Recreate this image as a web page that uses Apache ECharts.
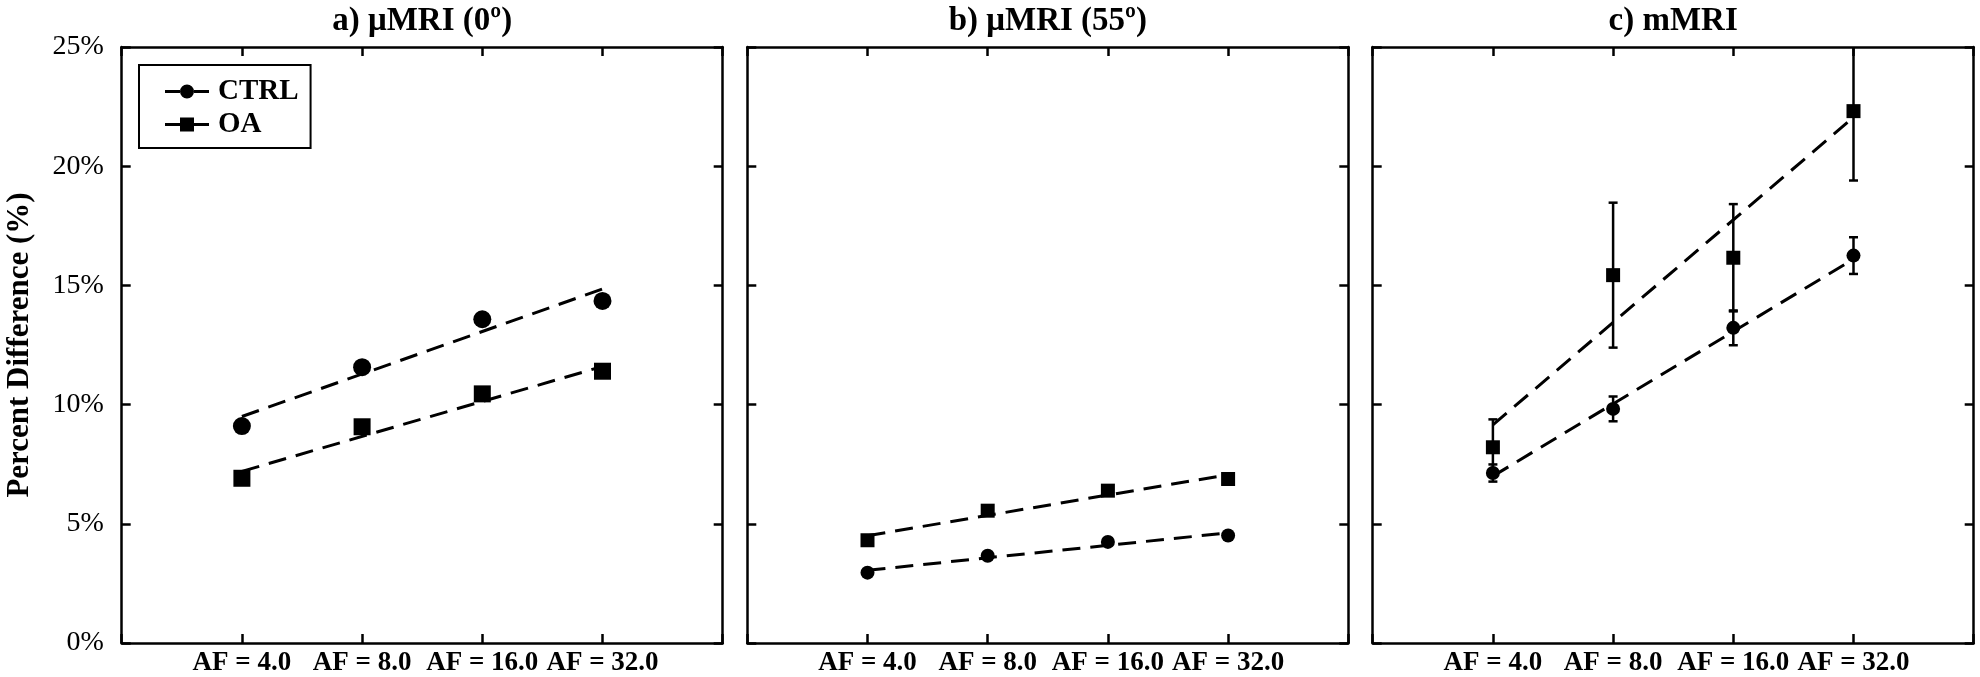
<!DOCTYPE html>
<html>
<head>
<meta charset="utf-8">
<script src="https://cdn.jsdelivr.net/npm/echarts@6/dist/echarts.min.js"></script>
<style>
  html, body { margin: 0; padding: 0; background: #fff; }
  #main { width: 1980px; height: 677px; }
</style>
</head>
<body>
<div id="main"></div>
<script>
// x categories (acceleration factors) and y tick labels
const afLabels = ['AF = 4.0', 'AF = 8.0', 'AF = 16.0', 'AF = 32.0']
const afPos = [1, 2, 3, 4]
const yTicks = [0, 5, 10, 15, 20, 25]
const panelTitles = ['a) μMRI (0º)', 'b) μMRI (55º)', 'c) mMRI']

// a) uMRI 0 deg
const ctrlA = [9.1, 11.57, 13.58, 14.35]
const oaA = [6.91, 9.07, 10.45, 11.4]
const ctrlFitA = [9.5, 14.85]
const oaFitA = [7.2, 11.6]

// b) uMRI 55 deg
const ctrlB = [2.95, 3.66, 4.24, 4.51]
const oaB = [4.31, 5.55, 6.39, 6.88]
const ctrlFitB = [3.05, 4.62]
const oaFitB = [4.5, 7.06]

// c) mMRI (with error bars)
const ctrlC = [7.13, 9.82, 13.22, 16.25]
const oaC = [8.21, 15.43, 16.16, 22.31]
const ctrlErrC = [0.36, 0.52, 0.73, 0.77]
const oaErrC = [1.17, 3.04, 2.25, 2.91]
const ctrlFitC = [7.0, 16.1]
const oaFitC = [9.15, 22.05]

const SERIF = '"Liberation Serif", "Times New Roman", serif'
const gridLeft = [121.7, 747.3, 1372.7]

const circleIcon = 'path://M0,5.5H15V8.5H0Z M29,5.5H44V8.5H29Z M15,7A7,7 0 1,1 29,7A7,7 0 1,1 15,7Z'
const squareIcon = 'path://M0,5.5H15V8.5H0Z M29,5.5H44V8.5H29Z M15,0H29V14H15Z'

var lineBlack = { color: '#000', width: 2.5 }
var axLine = { onZero: false, lineStyle: lineBlack }
var tick = { inside: true, length: 9, lineStyle: lineBlack }

var grids = []
var xAxes = []
var yAxes = []
for (var i = 0; i < 3; i++) {
  grids.push({ left: gridLeft[i], top: 42.7, width: 601, height: 600.6 })
  // bottom axis with AF labels
  xAxes.push({
    gridIndex: i, type: 'value', position: 'bottom', min: 0, max: 5, interval: 1,
    axisLine: axLine, axisTick: tick, splitLine: { show: false },
    axisLabel: {
      formatter: function (v) { return afLabels[afPos.indexOf(v)] || '' },
      fontFamily: SERIF, fontWeight: 'bold', fontSize: 27, color: '#000', margin: 7
    }
  })
  // top axis: mirrored ticks + panel title
  xAxes.push({
    gridIndex: i, type: 'value', position: 'top', min: 0, max: 5, interval: 1,
    axisLine: axLine, axisTick: tick, splitLine: { show: false },
    axisLabel: { show: false },
    name: panelTitles[i], nameLocation: 'middle', nameGap: 9,
    nameTextStyle: { fontFamily: SERIF, fontWeight: 'bold', fontSize: 33, color: '#000' }
  })
  yAxes.push({
    gridIndex: i, type: 'value', position: 'left', min: yTicks[0], max: yTicks[yTicks.length - 1], interval: 5,
    axisLine: axLine, axisTick: tick, splitLine: { show: false },
    axisLabel: {
      show: i === 0, formatter: '{value}%',
      fontFamily: SERIF, fontSize: 28, color: '#000', margin: 18
    },
    name: i === 0 ? 'Percent Difference (%)' : '', nameLocation: 'middle', nameRotate: 90, nameGap: 86,
    nameTextStyle: { fontFamily: SERIF, fontWeight: 'bold', fontSize: 31, color: '#000' }
  })
  yAxes.push({
    gridIndex: i, type: 'value', position: 'right', min: 0, max: 25, interval: 5,
    axisLine: axLine, axisTick: tick, splitLine: { show: false },
    axisLabel: { show: false }
  })
}

function pts(vals) {
  return vals.map(function (v, k) { return [afPos[k], v] })
}
function fitPts(ends) {
  return [[afPos[0], ends[0]], [afPos[afPos.length - 1], ends[1]]]
}
function markers(name, vals, panel, symbol, size) {
  return {
    name: name, type: 'scatter', xAxisIndex: panel * 2, yAxisIndex: panel * 2,
    symbol: symbol, symbolSize: size, data: pts(vals),
    itemStyle: { color: '#000', opacity: 1 }, z: 4, silent: true
  }
}
function fit(name, ends, panel) {
  return {
    name: name, type: 'line', xAxisIndex: panel * 2, yAxisIndex: panel * 2,
    data: fitPts(ends), showSymbol: false, symbol: 'none',
    lineStyle: { color: '#000', width: 3, type: [18, 10] }, z: 2, silent: true
  }
}
function errBars(name, vals, errs, panel) {
  return {
    name: name, type: 'custom', xAxisIndex: panel * 2, yAxisIndex: panel * 2,
    clip: true, z: 3, silent: true,
    data: vals.map(function (v, k) { return [afPos[k], v, errs[k]] }),
    renderItem: function (params, api) {
      var x = api.value(0), v = api.value(1), e = api.value(2)
      var hi = api.coord([x, v + e])
      var lo = api.coord([x, v - e])
      var st = { stroke: '#000', lineWidth: 2.5 }
      return {
        type: 'group',
        children: [
          { type: 'line', shape: { x1: hi[0], y1: hi[1], x2: lo[0], y2: lo[1] }, style: st },
          { type: 'line', shape: { x1: hi[0] - 4.5, y1: hi[1], x2: hi[0] + 4.5, y2: hi[1] }, style: st },
          { type: 'line', shape: { x1: lo[0] - 4.5, y1: lo[1], x2: lo[0] + 4.5, y2: lo[1] }, style: st }
        ]
      }
    }
  }
}

var series = [
  fit('CTRL', ctrlFitA, 0), fit('OA', oaFitA, 0),
  markers('CTRL', ctrlA, 0, 'circle', 18), markers('OA', oaA, 0, 'rect', 17),
  fit('CTRL', ctrlFitB, 1), fit('OA', oaFitB, 1),
  markers('CTRL', ctrlB, 1, 'circle', 14), markers('OA', oaB, 1, 'rect', 14),
  fit('CTRL', ctrlFitC, 2), fit('OA', oaFitC, 2),
  errBars('CTRL', ctrlC, ctrlErrC, 2), errBars('OA', oaC, oaErrC, 2),
  markers('CTRL', ctrlC, 2, 'circle', 14), markers('OA', oaC, 2, 'rect', 14)
]

var myChart = echarts.init(document.getElementById('main'), null, { renderer: 'canvas' })

var option = {
  backgroundColor: '#fff',
  animation: false,
  legend: {
    orient: 'vertical', left: 139, top: 65,
    padding: [12, 12, 9, 26], itemGap: 4,
    itemWidth: 44, itemHeight: 14,
    borderColor: '#000', borderWidth: 2,
    selectedMode: false,
    textStyle: { fontFamily: SERIF, fontWeight: 'bold', fontSize: 29, color: '#000', padding: [0, 0, 0, 4] },
    data: [
      { name: 'CTRL', icon: circleIcon, itemStyle: { color: '#000' } },
      { name: 'OA', icon: squareIcon, itemStyle: { color: '#000' } }
    ]
  },
  grid: grids,
  xAxis: xAxes,
  yAxis: yAxes,
  series: series
}
myChart.setOption(option)
</script>
</body>
</html>
